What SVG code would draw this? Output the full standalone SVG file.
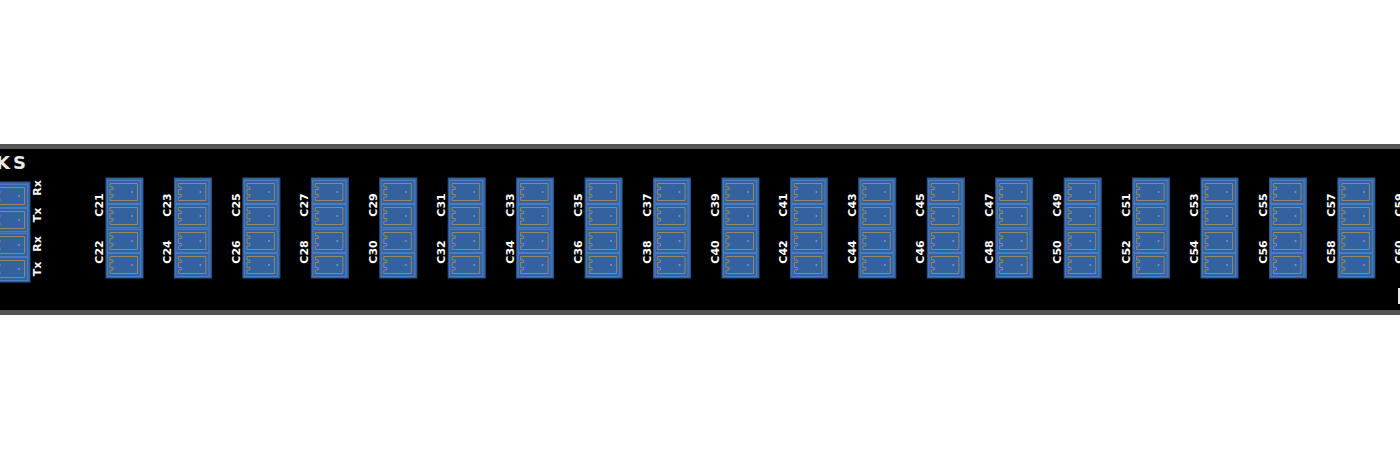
<svg xmlns="http://www.w3.org/2000/svg" xmlns:xlink="http://www.w3.org/1999/xlink" width="1400" height="462" viewBox="0 0 1400 462">
<style>
.lbl{font-family:"DejaVu Sans",sans-serif;font-weight:bold;font-size:11px;fill:#fff}
.port{fill:#33629f;stroke:#4a7cc0;stroke-width:1}
.notch{fill:none;stroke:#8f8a6e;stroke-width:1}
</style>
<defs>
<g id="p">
<rect class="port" x="1.5" y="0.5" width="33" height="23"/>
<path class="notch" d="M4 3.5H31.5V20.5H4V17H7V14.5H4V9.5H7V7H4Z"/>
<circle cx="26" cy="12" r="1" fill="#6a9ad8"/>
</g>
<g id="m">
<rect x="0" y="0" width="37" height="100" fill="#3a6aab" stroke="#2b5690"/>
<use xlink:href="#p" y="2"/>
<use xlink:href="#p" y="26"/>
<use xlink:href="#p" y="51"/>
<use xlink:href="#p" y="75"/>
</g>
</defs>
<rect width="1400" height="462" fill="#fff"/>
<rect x="0" y="144" width="1400" height="171" fill="#555"/>
<rect x="0" y="149" width="1400" height="161" fill="#000"/>
<text x="-4" y="169" font-family="DejaVu Sans,sans-serif" font-weight="bold" font-size="18" fill="#e8e8e8" letter-spacing="3">KS</text>
<g id="left"><use xlink:href="#m" x="-7" y="182"/>
<text class="lbl" transform="translate(41,188) rotate(-90)" text-anchor="middle">Rx</text>
<text class="lbl" transform="translate(41,215) rotate(-90)" text-anchor="middle">Tx</text>
<text class="lbl" transform="translate(41,244) rotate(-90)" text-anchor="middle">Rx</text>
<text class="lbl" transform="translate(41,269) rotate(-90)" text-anchor="middle">Tx</text></g>
<g id="modules">
<g id="m21"><use xlink:href="#m" x="106" y="178"/><text class="lbl" transform="translate(103,205) rotate(-90)" text-anchor="middle">C21</text><text class="lbl" transform="translate(103,252) rotate(-90)" text-anchor="middle">C22</text></g>
<g id="m23"><use xlink:href="#m" x="174.4" y="178"/><text class="lbl" transform="translate(171.4,205) rotate(-90)" text-anchor="middle">C23</text><text class="lbl" transform="translate(171.4,252) rotate(-90)" text-anchor="middle">C24</text></g>
<g id="m25"><use xlink:href="#m" x="242.9" y="178"/><text class="lbl" transform="translate(239.9,205) rotate(-90)" text-anchor="middle">C25</text><text class="lbl" transform="translate(239.9,252) rotate(-90)" text-anchor="middle">C26</text></g>
<g id="m27"><use xlink:href="#m" x="311.3" y="178"/><text class="lbl" transform="translate(308.3,205) rotate(-90)" text-anchor="middle">C27</text><text class="lbl" transform="translate(308.3,252) rotate(-90)" text-anchor="middle">C28</text></g>
<g id="m29"><use xlink:href="#m" x="379.8" y="178"/><text class="lbl" transform="translate(376.8,205) rotate(-90)" text-anchor="middle">C29</text><text class="lbl" transform="translate(376.8,252) rotate(-90)" text-anchor="middle">C30</text></g>
<g id="m31"><use xlink:href="#m" x="448.2" y="178"/><text class="lbl" transform="translate(445.2,205) rotate(-90)" text-anchor="middle">C31</text><text class="lbl" transform="translate(445.2,252) rotate(-90)" text-anchor="middle">C32</text></g>
<g id="m33"><use xlink:href="#m" x="516.6" y="178"/><text class="lbl" transform="translate(513.6,205) rotate(-90)" text-anchor="middle">C33</text><text class="lbl" transform="translate(513.6,252) rotate(-90)" text-anchor="middle">C34</text></g>
<g id="m35"><use xlink:href="#m" x="585.1" y="178"/><text class="lbl" transform="translate(582.1,205) rotate(-90)" text-anchor="middle">C35</text><text class="lbl" transform="translate(582.1,252) rotate(-90)" text-anchor="middle">C36</text></g>
<g id="m37"><use xlink:href="#m" x="653.5" y="178"/><text class="lbl" transform="translate(650.5,205) rotate(-90)" text-anchor="middle">C37</text><text class="lbl" transform="translate(650.5,252) rotate(-90)" text-anchor="middle">C38</text></g>
<g id="m39"><use xlink:href="#m" x="722" y="178"/><text class="lbl" transform="translate(719,205) rotate(-90)" text-anchor="middle">C39</text><text class="lbl" transform="translate(719,252) rotate(-90)" text-anchor="middle">C40</text></g>
<g id="m41"><use xlink:href="#m" x="790.4" y="178"/><text class="lbl" transform="translate(787.4,205) rotate(-90)" text-anchor="middle">C41</text><text class="lbl" transform="translate(787.4,252) rotate(-90)" text-anchor="middle">C42</text></g>
<g id="m43"><use xlink:href="#m" x="858.8" y="178"/><text class="lbl" transform="translate(855.8,205) rotate(-90)" text-anchor="middle">C43</text><text class="lbl" transform="translate(855.8,252) rotate(-90)" text-anchor="middle">C44</text></g>
<g id="m45"><use xlink:href="#m" x="927.3" y="178"/><text class="lbl" transform="translate(924.3,205) rotate(-90)" text-anchor="middle">C45</text><text class="lbl" transform="translate(924.3,252) rotate(-90)" text-anchor="middle">C46</text></g>
<g id="m47"><use xlink:href="#m" x="995.7" y="178"/><text class="lbl" transform="translate(992.7,205) rotate(-90)" text-anchor="middle">C47</text><text class="lbl" transform="translate(992.7,252) rotate(-90)" text-anchor="middle">C48</text></g>
<g id="m49"><use xlink:href="#m" x="1064.2" y="178"/><text class="lbl" transform="translate(1061.2,205) rotate(-90)" text-anchor="middle">C49</text><text class="lbl" transform="translate(1061.2,252) rotate(-90)" text-anchor="middle">C50</text></g>
<g id="m51"><use xlink:href="#m" x="1132.6" y="178"/><text class="lbl" transform="translate(1129.6,205) rotate(-90)" text-anchor="middle">C51</text><text class="lbl" transform="translate(1129.6,252) rotate(-90)" text-anchor="middle">C52</text></g>
<g id="m53"><use xlink:href="#m" x="1201" y="178"/><text class="lbl" transform="translate(1198,205) rotate(-90)" text-anchor="middle">C53</text><text class="lbl" transform="translate(1198,252) rotate(-90)" text-anchor="middle">C54</text></g>
<g id="m55"><use xlink:href="#m" x="1269.5" y="178"/><text class="lbl" transform="translate(1266.5,205) rotate(-90)" text-anchor="middle">C55</text><text class="lbl" transform="translate(1266.5,252) rotate(-90)" text-anchor="middle">C56</text></g>
<g id="m57"><use xlink:href="#m" x="1337.9" y="178"/><text class="lbl" transform="translate(1334.9,205) rotate(-90)" text-anchor="middle">C57</text><text class="lbl" transform="translate(1334.9,252) rotate(-90)" text-anchor="middle">C58</text></g>
<g id="m59"><text class="lbl" transform="translate(1403.3,205) rotate(-90)" text-anchor="middle">C59</text><text class="lbl" transform="translate(1403.3,252) rotate(-90)" text-anchor="middle">C60</text></g>
</g>
<rect x="1398" y="288" width="2" height="16" fill="#e8e8e8"/>
</svg>
